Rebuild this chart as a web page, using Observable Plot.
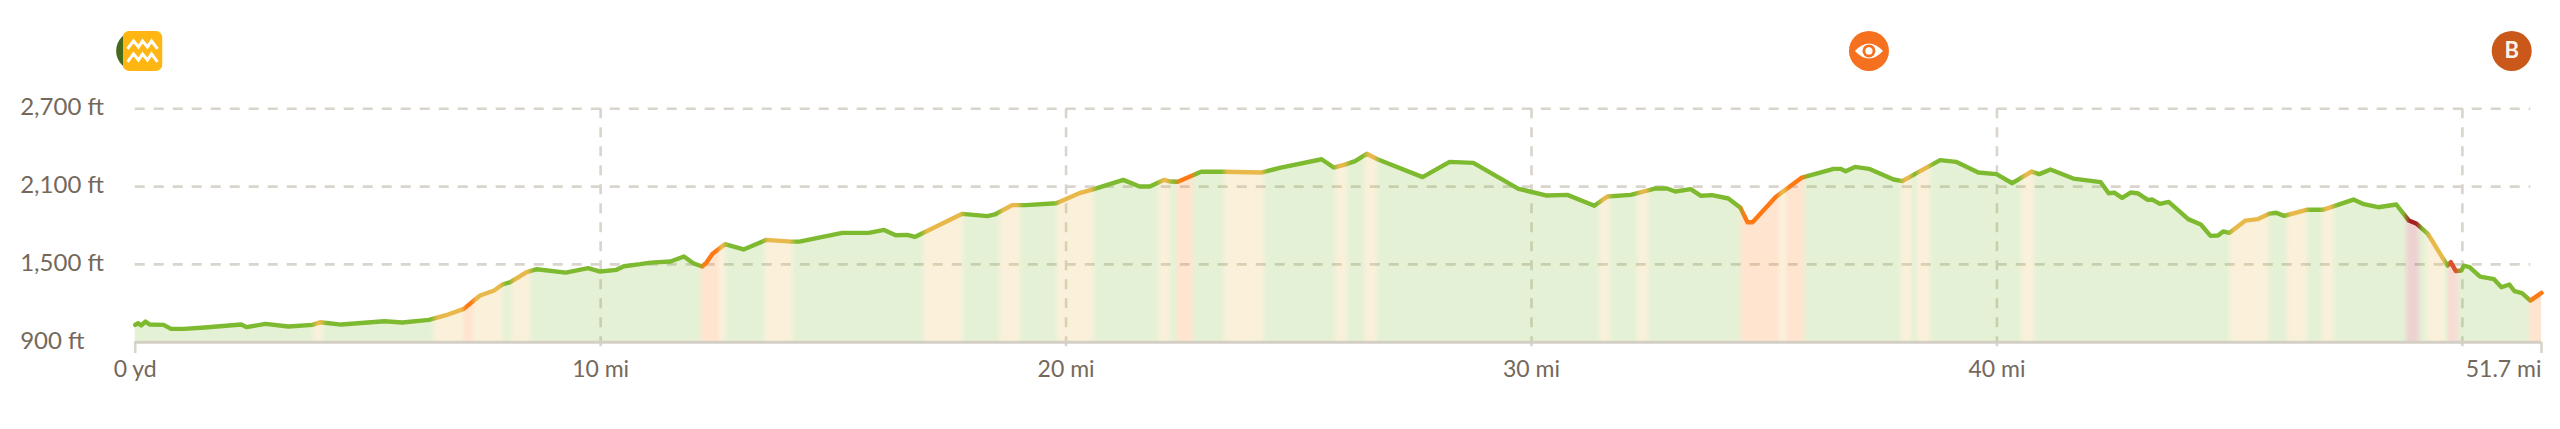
<!DOCTYPE html>
<html><head><meta charset="utf-8">
<script src="https://cdn.jsdelivr.net/npm/d3@7"></script>
<script src="https://cdn.jsdelivr.net/npm/@observablehq/plot@0.6"></script>
<style>html,body{margin:0;padding:0;background:#fff;overflow:hidden}svg{display:block}</style>
</head><body>
<div id="chart"></div>
<script>
const miles = [0,.06,.13,.22,.31,.61,.77,1.05,1.49,2.28,2.39,2.80,3.29,3.81,3.97,4.43,5.35,5.74,6.31,6.66,7.06,7.41,7.71,7.89,8.06,8.41,8.63,9.25,9.73,9.99,10.34,10.50,10.85,
11.07,11.50,11.79,11.99,12.18,12.27,12.40,12.67,13.07,13.56,14.09,14.27,15.19,15.76,16.09,16.34,16.59,16.75,17.77,18.31,18.47,18.84,19.13,19.79,20.27,20.58,21.23,21.58,21.80,22.11,22.24,22.40,22.90,23.38,24.21,24.59,
25.49,25.75,25.99,26.21,26.46,26.69,27.66,28.24,28.75,29.72,30.33,30.77,31.35,31.63,32.13,32.65,32.91,33.09,33.42,33.64,33.88,34.23,34.49,34.64,34.75,35.24,35.81,36.49,36.64,36.75,36.95,37.25,37.78,37.97,38.33,
38.78,39.12,39.60,39.99,40.33,40.74,40.91,41.15,41.64,42.23,42.40,42.52,42.69,42.87,43.02,43.24,43.34,43.50,43.69,44.11,44.38,44.59,44.75,44.86,44.99,45.34,45.60,45.86,46.00,46.17,46.65,47.00,47.66,47.86,48.19,48.58,48.85,49.02,49.26,49.50,49.68,49.75,49.86,49.98,50.03,50.16,50.38,50.68,50.84,51.01,51.12,51.28,51.46,51.70];
const elevationFt = [1034,1047,1029,1059,1036,1034,1003,1003,1013,1036,1016,1041,1021,1034,1054,1036,1062,1052,1072,1106,1157,1260,1299,1345,1363,1440,1463,1437,1471,1445,1458,1486,1502,
1514,1522,1561,1509,1484,1512,1581,1656,1615,1689,1676,1676,1743,1743,1766,1725,1728,1712,1890,1872,1885,1957,1957,1972,2047,2078,2152,2101,2101,2152,2139,2137,2214,2214,2209,2245,
2311,2247,2270,2296,2353,2311,2173,2291,2283,2083,2031,2036,1952,2024,2036,2085,2085,2062,2080,2029,2034,2008,1936,1825,1825,2018,2170,2237,2237,2219,2252,2237,2155,2142,2215,
2304,2291,2209,2196,2126,2216,2196,2232,2162,2134,2049,2054,2013,2054,2049,1998,2000,1967,1982,1849,1808,1720,1723,1754,1743,1838,1849,1892,1898,1874,1921,1921,2000,1967,1941,1962,1838,1813,1736,1594,1491,1517,1448,1453,1491,1478,1406,1386,1324,1345,1293,1278,1221,1280];

const bandStart = [3.86,6.44,7.06,7.27,8.11,12.18,12.55,13.55,16.96,18.60,19.83,22.02,22.40,23.42,25.81,26.45,31.49,32.30,34.52,35.32,35.48,37.97,38.30,40.56,45.03,46.26,47.02,48.82,49.26,49.68,51.46];
const bandEnd   = [4.03,7.06,7.27,7.89,8.48,12.55,12.67,14.11,17.77,19.00,20.58,22.22,22.72,24.24,26.03,26.67,31.67,32.50,35.32,35.48,35.85,38.16,38.55,40.78,45.82,46.65,47.22,49.06,49.65,49.90,51.70];
const bandGrade = ["y","y","o","y","y","o","y","y","y","y","y","y","o","y","y","y","y","y","o","y","o","y","y","y","y","y","y","d","y","r","o"];
const gradeColor = {g:"#7dba2f",y:"#e8b84a",o:"#ff7a14",r:"#dc4f28",d:"#a81e1e"};

const xTickValues = [0,10,20,30,40];
const xTickLabels = ["0 yd","10 mi","20 mi","30 mi","40 mi"];
const xLastValue = 51.7, xLastLabel = "51.7 mi";
const xGridValues = [10,20,30,40,50];
const xEndValues = [0,51.7];
const yTickValues = [900,1500,2100,2700];
const yTickLabels = ["900 ft","1,500 ft","2,100 ft","2,700 ft"];
const xMax = 51.7, yMin = 900, yMax = 2700;
const gridEndMi = 51.47, tickBottomFt = 813, labelFt = 685, iconFt = 3146;

const points = miles.map((m,i)=>({mi:m,ft:elevationFt[i]}));
const stops = [];
const soft = 0.09;
bandStart.forEach((s,i)=>{
  const e = bandEnd[i], prev = i ? bandEnd[i-1] : -1;
  const gap = s - prev;
  if (gap > 2*soft) {
    if (i) stops.push([prev+soft,"g"]);
    stops.push([s-soft,"g"]);
  } else if (gap > 0.02) {
    stops.push([(s+prev)/2,"g"]);
  }
  const w = Math.min(soft*0.6,(e-s)*0.4);
  stops.push([s+w,bandGrade[i]],[e-w,bandGrade[i]]);
});
const gradient = () => {
  const defs = d3.create("svg:defs");
  const lg = defs.append("linearGradient").attr("id","grade").attr("x1",0).attr("x2",1).attr("y1",0).attr("y2",0);
  stops.forEach(([m,g])=>lg.append("stop").attr("offset",Math.min(1,Math.max(0,m/xMax))).attr("stop-color",gradeColor[g]));
  return defs.node();
};

const wavesIcon = "data:image/svg+xml;utf8," + encodeURIComponent(
 `<svg xmlns="http://www.w3.org/2000/svg" viewBox="0 0 40 40"><rect width="40" height="40" rx="7" fill="#ffb612"/><g fill="none" stroke="#fff" stroke-width="3" stroke-linejoin="miter"><path d="M5 18 L11 10 L16 16 L20 10 L25 16 L29 10 L35 18"/><path d="M5 31 L11 23 L16 29 L20 23 L25 29 L29 23 L35 31"/></g></svg>`);
const eyeIcon = "data:image/svg+xml;utf8," + encodeURIComponent(
 `<svg xmlns="http://www.w3.org/2000/svg" viewBox="0 0 40 40"><path d="M6 20 Q20 5 34 20 Q20 35 6 20Z" fill="#fff"/><circle cx="20" cy="20" r="6.5" fill="#f5701f"/><circle cx="20" cy="20" r="3.6" fill="#fff"/></svg>`);

const textColor = "#74685b", gridColor = "#d9d4cc";
const font = "Lato, 'Noto Sans', sans-serif";

const plot = Plot.plot({
  width:2560, height:429,
  marginLeft:134.7, marginRight:19, marginTop:108.3, marginBottom:87.3,
  style:{background:"#fff",fontFamily:font,overflow:"visible"},
  x:{domain:[0,xMax],axis:null},
  y:{domain:[yMin,yMax],axis:null},
  marks:[
    gradient,
    Plot.ruleY(yTickValues.slice(1),{y:d=>d,x1:0,x2:gridEndMi,stroke:gridColor,strokeWidth:2.6,strokeDasharray:"10,9"}),
    Plot.ruleX(xGridValues,{x:d=>d,y1:yMax,y2:tickBottomFt,stroke:gridColor,strokeWidth:2.6,strokeDasharray:"10,9"}),
    Plot.ruleX(xEndValues,{x:d=>d,y1:yMin,y2:tickBottomFt,stroke:gridColor,strokeWidth:2.6}),
    Plot.areaY(points,{x:"mi",y1:yMin,y2:"ft",fill:"url(#grade)",fillOpacity:0.2}),
    Plot.ruleY([yMin],{x1:0,x2:xMax,stroke:"#d3cfc5",strokeWidth:3}),
    Plot.line(points,{x:"mi",y:"ft",stroke:"url(#grade)",strokeWidth:4.4,strokeLinejoin:"round",strokeLinecap:"round"}),
    Plot.text(yTickValues,{y:d=>d,text:(d,i)=>yTickLabels[i],frameAnchor:"left",textAnchor:"start",dx:-115,dy:-1,fontSize:24,fill:textColor}),
    Plot.text(xTickValues,{x:d=>d,y:labelFt,text:(d,i)=>xTickLabels[i],fontSize:23,fill:textColor}),
    Plot.text([xLastValue],{x:d=>d,y:labelFt,text:()=>xLastLabel,textAnchor:"end",fontSize:23,fill:textColor}),
    Plot.dot([{mi:0.02,ft:iconFt}],{x:"mi",y:"ft",r:20,fill:"#46691c"}),
    Plot.image([{mi:0.157,ft:iconFt,src:wavesIcon}],{x:"mi",y:"ft",src:d=>d.src,width:40,height:40}),
    Plot.dot([{mi:37.25,ft:iconFt}],{x:"mi",y:"ft",r:20,fill:"#f5701f"}),
    Plot.image([{mi:37.25,ft:iconFt,src:eyeIcon}],{x:"mi",y:"ft",src:d=>d.src,width:40,height:40}),
    Plot.dot([{mi:51.06,ft:iconFt}],{x:"mi",y:"ft",r:20,fill:"#c9581a"}),
    Plot.text(["B"],{x:51.06,y:iconFt,text:d=>d,fontSize:22,fontWeight:700,fill:"#fdf3ea"})
  ]
});
document.getElementById("chart").append(plot);
</script>
</body></html>
